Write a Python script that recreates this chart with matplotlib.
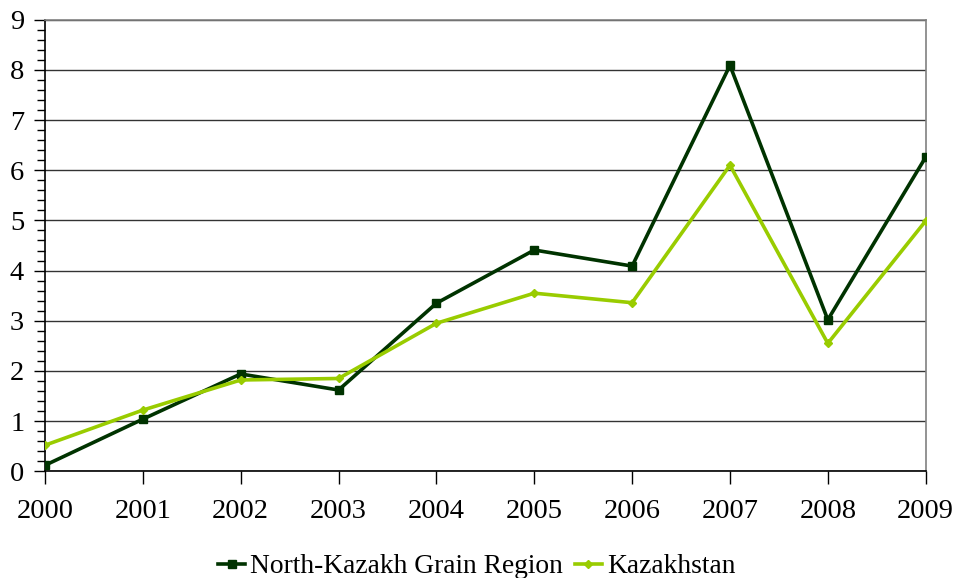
import numpy as np
import matplotlib
matplotlib.use("Agg")
import matplotlib.pyplot as plt
from matplotlib.ticker import MultipleLocator

plt.rcParams['font.family'] = ['Liberation Serif', 'DejaVu Serif']

# Datos
years = [2000, 2001, 2002, 2003, 2004, 2005, 2006, 2007, 2008, 2009]
north_kazakh = [0.12, 1.04, 1.94, 1.62, 3.35, 4.41, 4.09, 8.09, 3.02, 6.26]
kazakhstan = [0.52, 1.22, 1.82, 1.85, 2.95, 3.55, 3.36, 6.10, 2.55, 4.99]

fig = plt.figure(figsize=(9.54, 5.78), dpi=100)
ax = fig.add_axes([0.0472, 0.1846, 0.9231, 0.7813])

# lineas de la grilla
ax.set_axisbelow(True)
ax.yaxis.grid(True, which="major", color="#333333", linewidth=1.0)

ax.plot(years, north_kazakh, color="#003300", linewidth=2.6, marker="s",
        markersize=6, label="North-Kazakh Grain Region", zorder=3)
ax.plot(years, kazakhstan, color="#99cc00", linewidth=2.6, marker="D",
        markersize=4, label="Kazakhstan", zorder=4)

ax.set_xlim(2000, 2009)
ax.set_ylim(0, 9)
ax.set_xticks(years)
ax.set_yticks(range(0, 10))
ax.yaxis.set_minor_locator(MultipleLocator(0.2))

ax.tick_params(axis="both", labelsize=20.5, colors="black")
ax.tick_params(axis="y", which="major", length=8, width=1, direction="out", pad=7)
ax.tick_params(axis="y", which="minor", length=6, width=1, direction="out")
ax.tick_params(axis="x", which="major", length=9, width=1, direction="out", pad=11)

for s in ["top", "right"]:
    ax.spines[s].set_color("#808080")
    ax.spines[s].set_linewidth(1.2)
for s in ["left", "bottom"]:
    ax.spines[s].set_color("black")
    ax.spines[s].set_linewidth(1.2)

fig.legend(loc="lower center", bbox_to_anchor=(0.5, -0.045), ncol=2, frameon=False,
           fontsize=19.8, handlelength=0.95, handletextpad=0.2, columnspacing=0.45)

fig.savefig("out.png", dpi=100)
